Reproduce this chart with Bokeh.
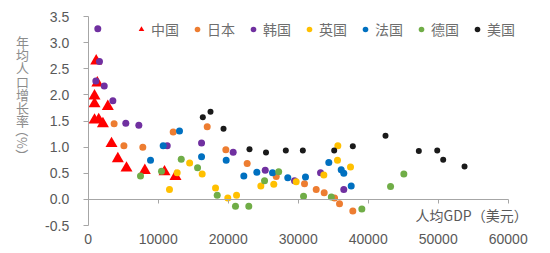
import math
from bokeh.plotting import figure
from bokeh.models import Range1d, FixedTicker, NumeralTickFormatter, LinearAxis, Label
from bokeh.embed import file_html
from bokeh.resources import INLINE

# ---------------- data ----------------
series_names = ["中国", "日本", "韩国", "英国", "法国", "德国", "美国"]

china_gdp = [1140, 1300, 900, 900, 2800, 900, 1500, 2100, 3330, 4230, 5470, 8090, 10900, 12470]
china_growth = [2.65, 2.23, 1.98, 1.83, 1.78, 1.52, 1.53, 1.45, 1.07, 0.78, 0.60, 0.555, 0.53, 0.44]

japan_gdp = [3700, 5100, 7800, 12140, 17000, 19660, 22710, 26860, 30900, 32570, 33710, 35190, 35900, 37800]
japan_growth = [1.45, 1.03, 1.00, 1.29, 1.39, 0.95, 0.69, 0.44, 0.30, 0.19, 0.13, 0.03, -0.08, -0.22]

korea_gdp = [1370, 1610, 1090, 2290, 3520, 5370, 7230, 11290, 16190, 20710, 25290, 29470, 33190, 36510]
korea_growth = [3.27, 2.64, 2.27, 2.17, 1.89, 1.46, 1.42, 1.03, 1.08, 0.905, 0.56, 0.36, 0.51, 0.19]

uk_gdp = [11610, 12710, 14490, 16280, 18190, 19940, 21190, 24660, 26510, 29710, 33660, 35610, 35660, 37470]
uk_growth = [0.19, 0.51, 0.70, 0.49, 0.22, 0.03, 0.08, 0.26, 0.29, 0.34, 0.47, 0.75, 1.03, 0.62]

france_gdp = [8900, 10710, 13040, 16190, 19710, 22230, 24090, 26330, 28510, 31040, 34370, 36140, 36510, 37570]
france_growth = [0.75, 1.03, 1.31, 0.82, 0.75, 0.45, 0.52, 0.51, 0.415, 0.43, 0.71, 0.57, 0.50, 0.26]

germany_gdp = [7470, 10470, 13290, 15620, 18430, 21040, 22940, 25190, 27210, 30760, 34730, 39090, 43190, 45090]
germany_growth = [0.45, 0.54, 0.77, 0.61, 0.08, -0.13, -0.13, 0.36, 0.53, 0.06, 0.05, -0.18, 0.25, 0.49]

usa_gdp = [16370, 17470, 19330, 23040, 25400, 28230, 30660, 35140, 37800, 42470, 47230, 49860, 50710, 53760]
usa_growth = [1.575, 1.68, 1.355, 0.96, 0.90, 0.94, 0.94, 0.94, 1.02, 1.22, 0.93, 0.94, 0.76, 0.63]

x_ticks = [0, 10000, 20000, 30000, 40000, 50000, 60000]
y_ticks = [-0.5, 0.0, 0.5, 1.0, 1.5, 2.0, 2.5, 3.0, 3.5]

x_title = "人均GDP（美元）"
y_title_chars = "年均人口增长率"
y_title_unit = "（%）"

# ---------------- styles ----------------
colors = ["#FF0000", "#ED7D31", "#7030A0", "#FFC000", "#0070C0", "#70AD47", "#1A1A1A"]
markers = ["triangle", "circle", "circle", "circle", "circle", "circle", "circle"]
sizes = [12, 7, 7, 7, 7, 7, 6]
AXIS_GREY = "#A6A6A6"
TEXT_GREY = "#595959"
TITLE_GREY = "#8C8C8C"
NUM_FONT = "Liberation Sans"
CJK_FONT = "Noto Sans CJK SC"

# frame covers the whole canvas; axes are placed at fixed data locations
p = figure(width=550, height=253, output_backend="svg", toolbar_location=None,
           x_range=Range1d(-12530, 66040), y_range=Range1d(-1.0335, 3.8086),
           x_axis_location=None, y_axis_location=None,
           min_border_left=0, min_border_right=0, min_border_top=0, min_border_bottom=0)
p.outline_line_color = None
p.xgrid.visible = False
p.ygrid.visible = False
p.background_fill_color = "white"
p.border_fill_color = "white"

all_x = [china_gdp, japan_gdp, korea_gdp, uk_gdp, france_gdp, germany_gdp, usa_gdp]
all_y = [china_growth, japan_growth, korea_growth, uk_growth, france_growth, germany_growth, usa_growth]

for name, xs, ys, c, m, s in zip(series_names, all_x, all_y, colors, markers, sizes):
    p.scatter(xs, ys, marker=m, size=s, fill_color=c, line_color=None, legend_label=name)

# y axis at x = 0
yax = LinearAxis(fixed_location=0, bounds=(-0.5, 3.5),
                 ticker=FixedTicker(ticks=y_ticks),
                 formatter=NumeralTickFormatter(format="0.0"),
                 axis_line_color=AXIS_GREY, major_tick_line_color=AXIS_GREY,
                 major_tick_out=5, major_tick_in=0, minor_tick_line_color=None,
                 major_label_text_font=NUM_FONT, major_label_text_font_size="14px",
                 major_label_text_color=TEXT_GREY, major_label_standoff=14)
p.add_layout(yax, "left")

# x axis line with ticks at y = 0
zax = LinearAxis(fixed_location=0, bounds=(0, 60000), ticker=FixedTicker(ticks=x_ticks),
                 axis_line_color=AXIS_GREY, major_tick_line_color=AXIS_GREY,
                 major_tick_out=4, major_tick_in=0, minor_tick_line_color=None,
                 major_label_text_alpha=0, major_label_text_font_size="1px",
                 major_label_standoff=0)
p.add_layout(zax, "below")

# x tick labels at the bottom (y = -0.5)
xax = LinearAxis(fixed_location=-0.5, bounds=(0, 60000), ticker=FixedTicker(ticks=x_ticks),
                 formatter=NumeralTickFormatter(format="0"),
                 axis_line_color=None, major_tick_line_color=None,
                 major_tick_out=0, major_tick_in=0, minor_tick_line_color=None,
                 major_label_text_font=NUM_FONT, major_label_text_font_size="14px",
                 major_label_text_color=TEXT_GREY, major_label_standoff=8)
p.add_layout(xax, "below")

# x title
p.add_layout(Label(x=46760, y=-0.29, text=x_title, text_font=CJK_FONT,
                   text_font_size="14px", text_color=TEXT_GREY,
                   text_align="left", text_baseline="middle"))

# vertical y title: one upright character per row (screen pixels from the top)
YT_X = 22          # px from left
YT_TOP = 41        # px, centre of first character
YT_PITCH = 13.2    # px between characters


def px_to_x(px):
    return (px - 87.7) / 0.007


def py_to_y(py):
    return (199.0 - py) / 52.25


for i, ch in enumerate(y_title_chars):
    p.add_layout(Label(x=px_to_x(YT_X), y=py_to_y(YT_TOP + i * YT_PITCH), text=ch,
                       text_font=CJK_FONT, text_font_size="13px", text_color=TITLE_GREY,
                       text_align="center", text_baseline="middle"))
p.add_layout(Label(x=px_to_x(YT_X), y=py_to_y(YT_TOP + len(y_title_chars) * YT_PITCH + 9),
                   text=y_title_unit, text_font=CJK_FONT, text_font_size="13px",
                   text_color=TITLE_GREY, angle=-math.pi / 2,
                   text_align="center", text_baseline="middle"))

# legend
lg = p.legend[0]
lg.orientation = "horizontal"
lg.location = (134, 214)
lg.glyph_width = 14
lg.glyph_height = 14
lg.label_height = 14
lg.label_standoff = 3
lg.spacing = 11
lg.padding = 0
lg.margin = 0
lg.border_line_color = None
lg.background_fill_alpha = 0
lg.label_text_font = CJK_FONT
lg.label_text_font_size = "14px"
lg.label_text_color = "#6E6E6E"
lg.label_text_baseline = "middle"

open("out.html", "w").write(file_html(p, INLINE))
